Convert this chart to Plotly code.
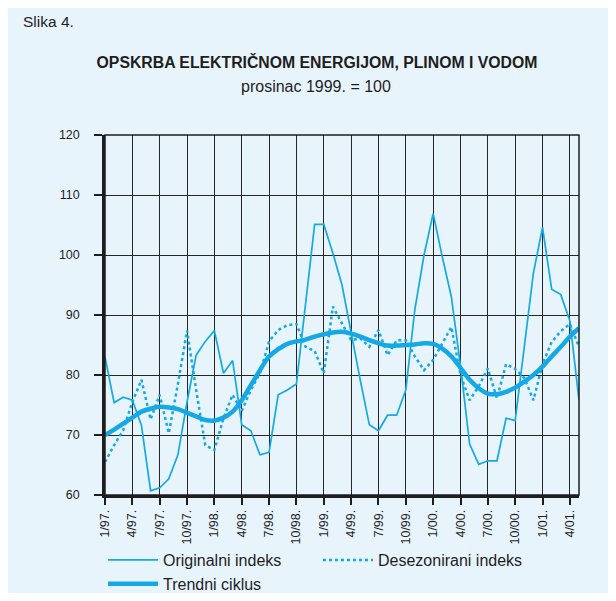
import plotly.graph_objects as go

# ---- data ----
months = list(range(53))  # 1/97 ... 5/01, monthly index
tick_positions = list(range(0, 52, 3))
tick_labels = ["1/97.", "4/97.", "7/97.", "10/97.", "1/98.", "4/98.", "7/98.", "10/98.",
               "1/99.", "4/99.", "7/99.", "10/99.", "1/00.", "4/00.", "7/00.", "10/00.",
               "1/01.", "4/01."]

originalni = [83.0, 75.4, 76.3, 75.8, 71.6, 60.7, 61.2, 62.7, 66.7, 75.5,
              83.3, 85.6, 87.4, 80.3, 82.4, 71.7, 70.7, 66.7, 67.1, 76.7,
              77.5, 78.5, 91.8, 105.1, 105.1, 100.3, 95.0, 87.0, 79.2, 71.7,
              70.7, 73.3, 73.3, 77.5, 91.0, 100.0, 106.9, 99.7, 93.0, 81.5,
              68.5, 65.1, 65.7, 65.7, 72.8, 72.4, 85.0, 97.0, 104.6, 94.3,
              93.4, 89.0, 75.8]

desezonirani = [65.5, 68.3, 70.8, 75.5, 79.2, 72.6, 76.7, 70.3, 78.5, 87.4,
                77.5, 68.3, 67.5, 72.8, 76.7, 74.0, 77.5, 80.3, 85.6, 87.5,
                88.3, 88.5, 84.7, 84.0, 80.3, 91.4, 88.6, 85.8, 86.1, 84.7,
                87.5, 83.3, 85.8, 85.8, 83.1, 80.8, 82.5, 85.3, 88.0, 80.0,
                75.8, 78.1, 81.1, 76.1, 81.8, 81.0, 79.5, 75.8, 81.8, 85.5,
                87.3, 88.5, 84.7]

trend = [70.0, 70.9, 71.9, 72.9, 73.9, 74.4, 74.7, 74.6, 74.3, 73.7,
         73.1, 72.5, 72.4, 72.9, 73.9, 75.8, 78.3, 80.8, 83.1, 84.3,
         85.2, 85.6, 85.9, 86.4, 86.8, 87.1, 87.2, 86.9, 86.4, 85.8,
         85.3, 84.9, 84.9, 85.0, 85.1, 85.3, 85.2, 84.4, 83.1, 81.2,
         79.2, 77.8, 76.9, 76.8, 77.2, 77.9, 78.9, 80.0, 81.4, 83.1,
         84.7, 86.4, 87.8]

y_ticks = [60, 70, 80, 90, 100, 110, 120]

# ---- styling ----
BLUE = "#14a9e6"
DARK = "#1e1e1e"
GRID = "#262626"
PANEL = "#e8f4fc"
FONT = "Liberation Sans, Arial, sans-serif"

fig = go.Figure()
fig.add_trace(go.Scatter(x=months, y=originalni, mode="lines", name="Originalni indeks",
                         line=dict(color=BLUE, width=1.7)))
fig.add_trace(go.Scatter(x=months, y=desezonirani, mode="lines", name="Desezonirani indeks",
                         line=dict(color=BLUE, width=2.5, dash="dot")))
fig.add_trace(go.Scatter(x=months, y=trend, mode="lines", name="Trendni ciklus",
                         line=dict(color=BLUE, width=4.5, shape="spline")))

# the page body has an 8px margin; figure coordinates = page coordinates - 8
OFF = 8
W, H = 600, 585
L, T = 105 - OFF, 135 - OFF
R = W - (579 - OFF)
B = H - (495 - OFF)
pw, ph = W - L - R, H - T - B

def px_x(px):  # page px -> paper
    return (px - OFF - L) / pw

def px_y(py):  # page px -> paper
    return (H - B - (py - OFF)) / ph

fig.update_layout(
    width=W, height=H,
    margin=dict(l=L, r=R, t=T, b=B, autoexpand=False),
    paper_bgcolor=PANEL,
    plot_bgcolor="rgba(0,0,0,0)",
    font=dict(family=FONT, color=DARK, size=13),
    title=dict(text="<b>OPSKRBA ELEKTRIČNOM ENERGIJOM, PLINOM I VODOM</b>",
               font=dict(size=15.8, color=DARK, family=FONT),
               x=(317 - OFF) / W, xref="container", xanchor="center",
               y=1 - (62 - OFF) / H, yref="container", yanchor="middle"),
    showlegend=True,
    legend=dict(orientation="h", x=px_x(103), xanchor="left", y=px_y(543), yanchor="top",
                font=dict(size=16, color=DARK, family=FONT),
                entrywidth=150, entrywidthmode="pixels",
                itemwidth=50, tracegroupgap=0,
                bgcolor="rgba(0,0,0,0)"),
    shapes=[
        dict(type="rect", xref="paper", yref="paper", x0=0, x1=1, y0=0, y1=1,
             line=dict(color=DARK, width=1.5), fillcolor="rgba(0,0,0,0)", layer="above"),
    ],
    annotations=[
        dict(text="prosinac 1999. = 100", xref="paper", yref="paper",
             x=px_x(315.5), y=px_y(86), xanchor="center", yanchor="middle",
             showarrow=False, font=dict(size=16, color=DARK, family=FONT)),
        dict(text="Slika 4.", xref="paper", yref="paper",
             x=px_x(21), y=px_y(21), xanchor="left", yanchor="middle",
             showarrow=False, font=dict(size=15.5, color=DARK, family=FONT)),
    ],
)

fig.update_xaxes(range=[0, 52], tickmode="array", tickvals=tick_positions, ticktext=tick_labels,
                 tickangle=-90, ticks="outside", ticklen=7, tickwidth=1.5, tickcolor=DARK,
                 tickfont=dict(size=12.5, color=DARK, family=FONT),
                 showgrid=True, gridcolor=GRID, gridwidth=1.2,
                 showline=True, linecolor=DARK, linewidth=2.5, zeroline=False)
fig.update_yaxes(range=[60, 120], tickmode="array", tickvals=y_ticks,
                 ticks="outside", ticklen=8, tickwidth=1.5, tickcolor=DARK,
                 tickfont=dict(size=12.5, color=DARK, family=FONT), ticklabelstandoff=12,
                 showgrid=True, gridcolor=GRID, gridwidth=1.2,
                 showline=True, linecolor=DARK, linewidth=2.5, zeroline=False)

fig.write_html("out.html")
